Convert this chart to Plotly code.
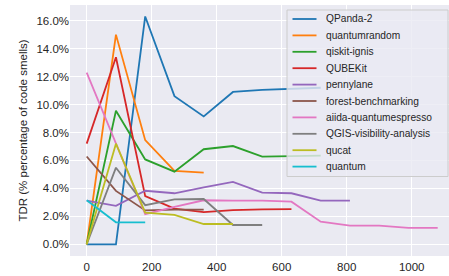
import plotly.graph_objects as go

x_step = [0, 90, 180, 270, 360, 450, 540, 630, 720, 810, 900, 990, 1080]

names = ["QPanda-2", "quantumrandom", "qiskit-ignis", "QUBEKit", "pennylane",
         "forest-benchmarking", "aiida-quantumespresso", "QGIS-visibility-analysis",
         "qucat", "quantum"]

qpanda2 = [0.0, 0.0, 16.3, 10.6, 9.15, 10.9, 11.05, 11.15, 11.2]
quantumrandom = [0.0, 15.0, 7.45, 5.25, 5.12]
qiskit_ignis = [0.0, 9.55, 6.07, 5.2, 6.8, 7.03, 6.27, 6.32, 6.35]
qubekit = [7.2, 13.38, 3.45, 2.55, 2.3, 2.45, 2.5, 2.52]
pennylane = [3.12, 2.75, 3.83, 3.65, 4.07, 4.47, 3.69, 3.65, 3.12, 3.12]
forest_benchmarking = [6.28, 3.82, 2.42, 2.48, 2.48]
aiida_qe = [12.28, 7.2, 2.15, 2.68, 3.15, 3.12, 3.12, 3.05, 1.62, 1.33, 1.33, 1.17, 1.17]
qgis_va = [0.0, 5.48, 2.8, 3.22, 3.24, 1.38, 1.38]
qucat = [0.0, 7.2, 2.27, 2.1, 1.45, 1.45]
quantum = [3.15, 1.57, 1.57]

series = [qpanda2, quantumrandom, qiskit_ignis, qubekit, pennylane,
          forest_benchmarking, aiida_qe, qgis_va, qucat, quantum]

colors = ["#1f77b4", "#ff7f0e", "#2ca02c", "#d62728", "#9467bd",
          "#8c564b", "#e377c2", "#7f7f7f", "#bcbd22", "#17becf"]

y_ticks = [0, 2, 4, 6, 8, 10, 12, 14, 16]
y_tick_labels = [f"{v:.1f}%" for v in y_ticks]
x_ticks = [0, 200, 400, 600, 800, 1000]

W, H = 449, 276
ML, MR, MT, MB = 70, 0, 5, 20
PW, PH = W - ML - MR, H - MT - MB


def px_x(p):
    return (p - ML) / PW


def px_y(p):
    return (H - MB - p) / PH


fig = go.Figure()
for name, vals, col in zip(names, series, colors):
    fig.add_trace(go.Scatter(
        x=x_step[:len(vals)], y=vals, mode="lines", name=name,
        line=dict(color=col, width=1.8), showlegend=False))

# legend box (drawn to match the reference's compact legend)
shapes = [dict(type="rect", xref="paper", yref="paper", layer="above",
               x0=px_x(287), x1=px_x(448), y0=px_y(176.5), y1=px_y(10),
               fillcolor="rgba(234,234,242,0.8)",
               line=dict(color="#cccccc", width=1))]
annotations = []
for i, (name, col) in enumerate(zip(names, colors)):
    yy = 19 + 16.4 * i
    shapes.append(dict(type="line", xref="paper", yref="paper", layer="above",
                       x0=px_x(292.5), x1=px_x(316.5), y0=px_y(yy), y1=px_y(yy),
                       line=dict(color=col, width=1.8)))
    annotations.append(dict(text=name, xref="paper", yref="paper",
                            x=px_x(324), y=px_y(yy), xanchor="left", yanchor="middle",
                            showarrow=False, font=dict(size=10.2, color="#262626")))

fig.update_layout(
    width=W, height=H,
    margin=dict(l=ML, r=MR, t=MT, b=MB),
    paper_bgcolor="white",
    plot_bgcolor="#EAEAF2",
    font=dict(family="Liberation Sans, Arial, sans-serif", size=11.5, color="#262626"),
    showlegend=False,
    shapes=shapes,
    annotations=annotations,
    xaxis=dict(
        range=[-51.4, 1114.8], tickvals=x_ticks, showgrid=True, gridcolor="white",
        gridwidth=1, zeroline=False, showline=False, ticks="",
        tickfont=dict(size=11.5), ticklabelstandoff=2, automargin=False,
    ),
    yaxis=dict(
        range=[-0.838, 17.12], tickvals=y_ticks, ticktext=y_tick_labels,
        showgrid=True, gridcolor="white", gridwidth=1, zeroline=False,
        showline=False, ticks="", automargin=False,
        tickfont=dict(size=11.5),
        title=dict(text="TDR (% percentage of code smells)", standoff=6,
                   font=dict(size=11.5)),
    ),
)

fig.write_html("out.html", config={"displayModeBar": False},
               post_script="document.body.style.margin='0';")
